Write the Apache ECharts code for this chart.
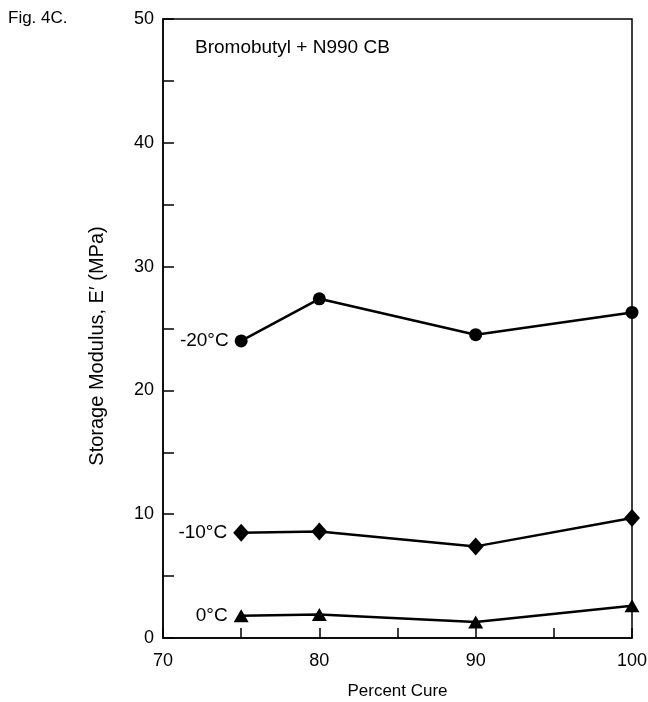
<!DOCTYPE html>
<html>
<head>
<meta charset="utf-8">
<script src="https://cdn.jsdelivr.net/npm/echarts@6/dist/echarts.min.js"></script>
<style>
  html, body { margin: 0; padding: 0; background: #fff; }
  #chart { width: 648px; height: 702px; }
</style>
</head>
<body>
<div id="chart"></div>
<script>
  // percent cure
  var cure = [75, 80, 90, 100];
  // storage modulus E' (MPa) at each temperature
  var minus20 = [24.0, 27.4, 24.5, 26.3];
  var minus10 = [8.5, 8.6, 7.4, 9.7];
  var zero = [1.8, 1.9, 1.3, 2.6];
  var seriesNames = ['-20°C', '-10°C', '0°C'];
  var xTicks = [70, 80, 90, 100];
  var yTicks = [0, 10, 20, 30, 40, 50];

  var font = '"Liberation Sans", Arial, sans-serif';

  function toData(vals, name) {
    return vals.map(function (v, i) {
      var item = { value: [cure[i], v] };
      if (i === 0) {
        // temperature tag sits left of the first point
        item.label = {
          show: true, position: 'left', distance: 6,
          formatter: name, color: '#000', fontSize: 19, fontFamily: font
        };
      }
      return item;
    });
  }

  var myChart = echarts.init(document.getElementById('chart'));
  var option = {
    animation: false,
    graphic: [
      {
        type: 'text', left: 8, top: 10,
        style: { text: 'Fig. 4C.', fontSize: 17, fill: '#000', fontFamily: font }
      },
      {
        type: 'text', left: 195, top: 38,
        style: { text: 'Bromobutyl + N990 CB', fontSize: 19, fill: '#000', fontFamily: font }
      },
      {
        type: 'text', x: 97, y: 346, rotation: Math.PI / 2,
        style: {
          text: 'Storage Modulus, E\u2032 (MPa)', fontSize: 20, fill: '#000', fontFamily: font,
          align: 'center', verticalAlign: 'middle'
        }
      }
    ],
    grid: {
      left: 163, right: 16, top: 19, bottom: 64,
      outerBoundsMode: 'none',
      show: true, borderColor: '#000', borderWidth: 1.5
    },
    xAxis: {
      type: 'value', min: 70, max: 100, interval: 5,
      name: 'Percent Cure', nameLocation: 'middle', nameGap: 45,
      nameTextStyle: { fontSize: 17, color: '#000', fontFamily: font },
      axisLine: { lineStyle: { color: '#000', width: 1.5 } },
      axisTick: { inside: true, length: 10, lineStyle: { color: '#000', width: 1.5 } },
      splitLine: { show: false },
      axisLabel: {
        color: '#000', fontSize: 18, fontFamily: font, margin: 14,
        formatter: function (v) { return xTicks.indexOf(v) >= 0 ? v : ''; }
      }
    },
    yAxis: {
      type: 'value', min: 0, max: 50, interval: 5,
      axisLine: { lineStyle: { color: '#000', width: 1.5 } },
      axisTick: { inside: true, length: 11, lineStyle: { color: '#000', width: 1.5 } },
      splitLine: { show: false },
      axisLabel: {
        color: '#000', fontSize: 18, fontFamily: font, margin: 9,
        formatter: function (v) { return yTicks.indexOf(v) >= 0 ? v : ''; }
      }
    },
    series: [
      {
        name: seriesNames[0], type: 'line', data: toData(minus20, seriesNames[0]),
        symbol: 'circle', symbolSize: 13,
        lineStyle: { color: '#000', width: 2.5 }, itemStyle: { color: '#000' }
      },
      {
        name: seriesNames[1], type: 'line', data: toData(minus10, seriesNames[1]),
        symbol: 'diamond', symbolSize: [16, 18],
        lineStyle: { color: '#000', width: 2.5 }, itemStyle: { color: '#000' }
      },
      {
        name: seriesNames[2], type: 'line', data: toData(zero, seriesNames[2]),
        symbol: 'triangle', symbolSize: [15, 13],
        lineStyle: { color: '#000', width: 2.5 }, itemStyle: { color: '#000' }
      }
    ]
  };
  myChart.setOption(option);
</script>
</body>
</html>
